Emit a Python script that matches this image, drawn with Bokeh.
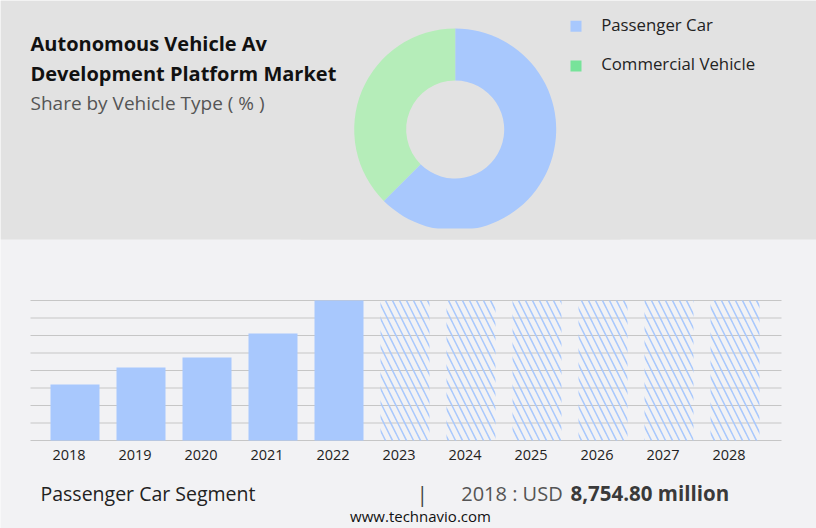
import math
from bokeh.plotting import figure
from bokeh.models import Range1d
from bokeh.core.properties import value
from bokeh.embed import file_html
from bokeh.resources import INLINE

# ---------------- data ----------------
years = ["2018", "2019", "2020", "2021", "2022", "2023", "2024", "2025", "2026", "2027", "2028"]
history_values = [8754.80, 11420, 12970, 16720, 21880]   # USD million, 2018-2022
segments = ["Passenger Car", "Commercial Vehicle"]
shares = [62.5, 37.5]                                       # %
donut_colors = ["#a8c8fd", "#b5edb9"]
legend_colors = ["#a8c8fd", "#77e39a"]

title_lines = ["Autonomous Vehicle Av", "Development Platform Market"]
subtitle = "Share by Vehicle Type ( % )"
footer_segment = "Passenger Car Segment"
footer_year = "2018 : USD "
footer_value = "8,754.80 million"
site = "www.technavio.com"

# ---------------- layout constants (page pixels) ----------------
TOP_BG = "#e2e2e2"
BOT_BG = "#f2f2f4"
W, H = 816, 528
BAND_BOTTOM = 239                 # end of grey header band
PLOT_LEFT, PLOT_RIGHT = 30, 781   # extent of the bar chart grid
PLOT_TOP, PLOT_BASE = 300, 440    # top grid line / baseline
FIRST_CENTER, STEP = 74.5, 66.0   # page x of first bar centre, px between bars
FONT = value("Open Sans")

ymax = max(history_values)
n_hist = len(history_values)
xi = list(range(len(years)))
units_per_px = ymax / (PLOT_BASE - PLOT_TOP)

p = figure(width=W, height=H, output_backend="svg", toolbar_location=None,
           x_range=Range1d(-FIRST_CENTER / STEP, (W - FIRST_CENTER) / STEP),
           y_range=Range1d(-(H - PLOT_BASE) * units_per_px, ymax + PLOT_TOP * units_per_px),
           min_border_left=0, min_border_right=0, min_border_top=0, min_border_bottom=0)
p.extra_x_ranges = {"px": Range1d(0, W)}
p.extra_y_ranges = {"px": Range1d(0, H)}
p.axis.visible = False
p.grid.visible = False
p.outline_line_color = None
p.background_fill_color = BOT_BG
p.border_fill_color = BOT_BG


def py(page_y):
    return H - page_y


def bx(page_x):
    return (page_x - FIRST_CENTER) / STEP


PX = dict(x_range_name="px", y_range_name="px")

# grey header band
p.quad(left=0, right=W, bottom=py(BAND_BOTTOM), top=H, fill_color=TOP_BG, line_color=None, **PX)

# ---------------- header: title, donut, legend ----------------
p.text(x=[30], y=[py(42.8)], text=[title_lines[0]], text_font=FONT, text_baseline="middle",
       text_font_style="bold", text_font_size="20px", text_color="#111111", **PX)
p.text(x=[30], y=[py(72.8)], text=[title_lines[1]], text_font=FONT, text_baseline="middle",
       text_font_style="bold", text_font_size="20px", text_color="#111111", **PX)
p.text(x=[30], y=[py(102.5)], text=[subtitle], text_font=FONT, text_baseline="middle",
       text_font_size="19px", text_color="#555555", **PX)

total = sum(shares)
starts, ends = [], []
acc = 0.0
for s in shares:
    a0 = math.pi / 2 - 2 * math.pi * acc / total
    acc += s
    a1 = math.pi / 2 - 2 * math.pi * acc / total
    starts.append(a0)
    ends.append(a1)
p.annular_wedge(x=454.7, y=py(129), inner_radius=49, outer_radius=101,
                inner_radius_units="screen", outer_radius_units="screen",
                start_angle=starts, end_angle=ends, direction="clock",
                fill_color=donut_colors, line_color=None, **PX)
# header band edge just below the donut (the reference crops the ring there)
p.quad(left=300, right=620, bottom=py(BAND_BOTTOM), top=py(228), fill_color=TOP_BG,
       line_color=None, **PX)

p.scatter(x=[575.5, 575.5], y=[py(25.8), py(65.5)], marker="square", size=11,
          fill_color=legend_colors, line_color=None, **PX)
p.text(x=[600.7, 600.7], y=[py(23.5), py(63.2)], text=segments, text_font=FONT,
       text_baseline="middle", text_font_size="16.8px", text_color="#222222", **PX)

# ---------------- bar chart ----------------
grid_vals = [ymax * k / 8 for k in range(9)]
p.segment(x0=bx(PLOT_LEFT), x1=bx(PLOT_RIGHT), y0=grid_vals, y1=grid_vals,
          line_color="#c6c6c6", line_width=1.2)

bar_w = 49 / STEP
p.vbar(x=xi[:n_hist], top=history_values, width=bar_w, bottom=0,
       fill_color="#a8c8fd", line_color=None)
p.vbar(x=xi[n_hist:], top=ymax, width=bar_w, bottom=0,
       fill_alpha=0, line_color=None, hatch_pattern="\\",
       hatch_color="#a8c8fd", hatch_scale=14, hatch_weight=1.5)

label_shift = 6.0 / STEP     # year labels sit slightly left of bar centres
p.text(x=[i - label_shift for i in xi], y=0, text=years, y_offset=14.5,
       text_align="center", text_baseline="middle", text_font=FONT,
       text_font_size="14.5px", text_color="#222222")

# ---------------- footer ----------------
p.text(x=[40], y=[py(492.8)], text=[footer_segment], text_font=FONT, text_baseline="middle",
       text_font_size="19.5px", text_color="#222222", **PX)
p.text(x=[421.7], y=[py(493.5)], text=["|"], text_font=FONT, text_baseline="middle",
       text_font_size="21px", text_color="#444444", text_align="center", **PX)
p.text(x=[460.7], y=[py(492.8)], text=[footer_year], text_font=FONT, text_baseline="middle",
       text_font_size="20px", text_color="#555555", **PX)
p.text(x=[570], y=[py(492.8)], text=[footer_value], text_font=FONT, text_baseline="middle",
       text_font_size="20.5px", text_font_style="bold", text_color="#3a3a3a", **PX)
p.text(x=[420], y=[py(515.5)], text=[site], text_font=FONT, text_baseline="middle",
       text_font_size="15px", text_color="#111111", text_align="center", **PX)

open("out.html", "w").write(file_html(p, INLINE))
